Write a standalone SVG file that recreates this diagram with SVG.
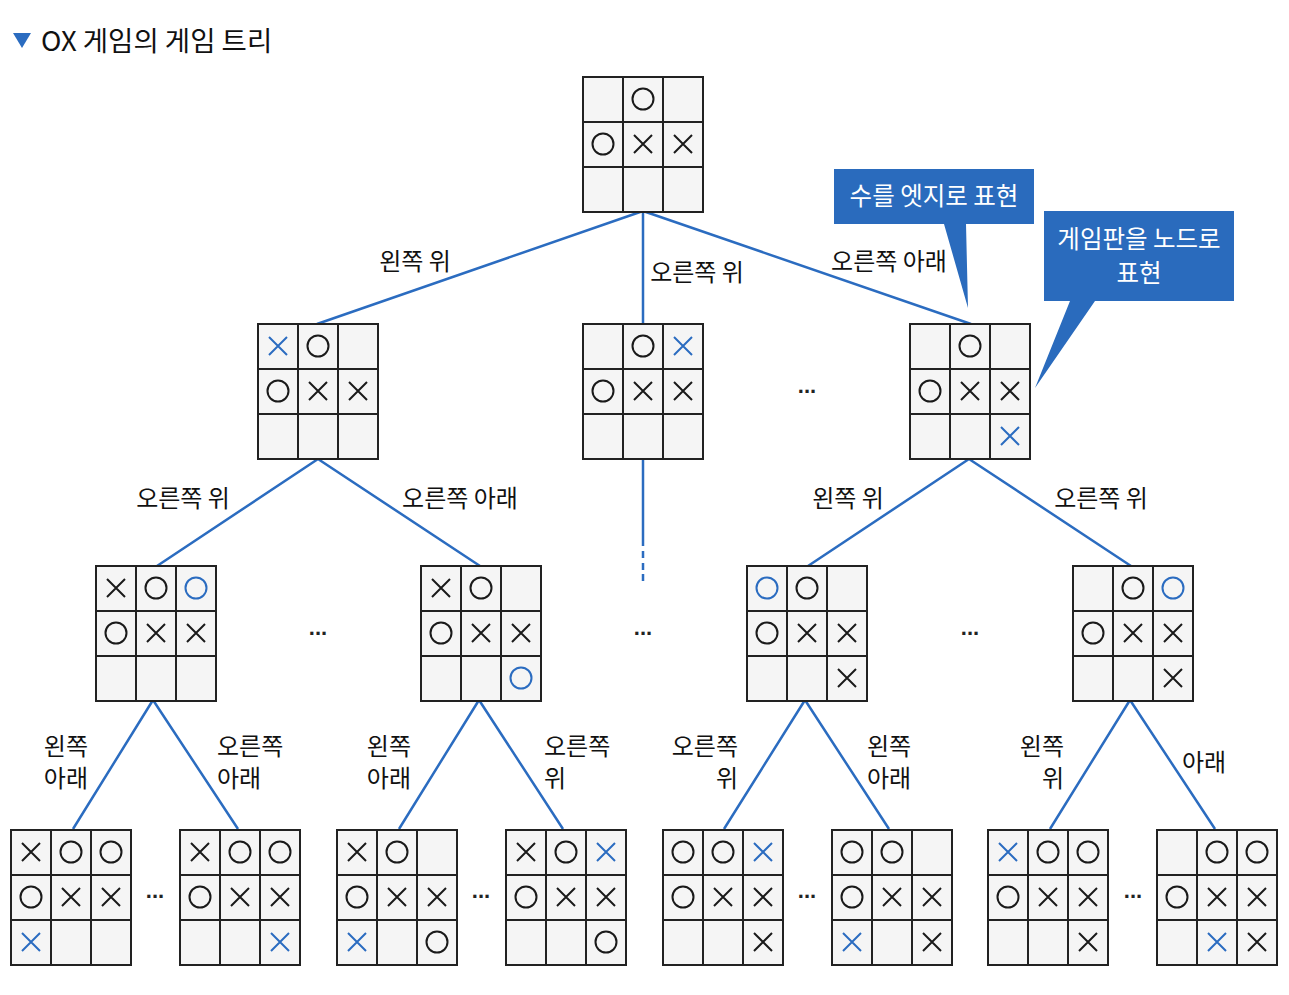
<svg xmlns="http://www.w3.org/2000/svg" xmlns:xlink="http://www.w3.org/1999/xlink" width="1289" height="995" viewBox="0 0 1289 995">
<style>
text{font-family:"Noto Sans CJK KR","Noto Sans",sans-serif;}
.lbl{font-size:24px;fill:#111;}
.ttl{font-size:27.5px;fill:#111;}
.call{font-size:24.5px;fill:#fff;text-anchor:middle;}
.edge{stroke:#2b6cc0;stroke-width:2.5;fill:none;}
.k{stroke:#1a1a1a;}
.b{stroke:#2b6cc0;}
.dots{font-size:22px;fill:#222;text-anchor:middle;font-family:"Liberation Sans",sans-serif;font-weight:bold;}
.m{text-anchor:middle;}
.e{text-anchor:end;}
</style>
<defs>
<g id="grid">
<rect x="0" y="0" width="120" height="135" fill="#f5f5f5" stroke="#222" stroke-width="2"/>
<path d="M40 0V135M80 0V135M0 45H120M0 90H120" stroke="#222" stroke-width="2" fill="none"/>
</g>
<circle id="o" cx="0" cy="0" r="10.5" fill="none" stroke-width="2"/>
<path id="x" d="M-9 -9L9 9M9 -9L-9 9" fill="none" stroke-width="2"/>
</defs>

<g id="title">
<polygon points="13,33 31,33 22,48" fill="#2b6cc0"/>
<text class="ttl" x="41" y="51">OX 게임의 게임 트리</text>
</g>

<g id="connectors">
<path class="edge" d="M643 211L317 324M643 211V324M643 211L971 324"/>
<path class="edge" d="M318 459L157 566M318 459L480 566"/>
<path class="edge" d="M643 459V546"/>
<path class="edge" d="M643 551V558M643 563V570M643 574V581"/>
<path class="edge" d="M969 459L808 566M969 459L1131 566"/>
<path class="edge" d="M153 700L73 829M153 700L238 829"/>
<path class="edge" d="M479 700L399 829M479 700L563 829"/>
<path class="edge" d="M805 700L724 829M805 700L889 829"/>
<path class="edge" d="M1130 700L1050 829M1130 700L1215 829"/>
</g>

<g id="edge-labels">
<text class="lbl m" x="415" y="270">왼쪽 위</text>
<text class="lbl m" x="697" y="281">오른쪽 위</text>
<text class="lbl m" x="889" y="270">오른쪽 아래</text>
<text class="lbl m" x="183" y="507">오른쪽 위</text>
<text class="lbl m" x="460" y="507">오른쪽 아래</text>
<text class="lbl m" x="848" y="507">왼쪽 위</text>
<text class="lbl m" x="1101" y="507">오른쪽 위</text>
<text class="lbl e" x="88" y="755">왼쪽</text><text class="lbl e" x="88" y="787">아래</text>
<text class="lbl" x="217" y="755">오른쪽</text><text class="lbl" x="217" y="787">아래</text>
<text class="lbl e" x="411" y="755">왼쪽</text><text class="lbl e" x="411" y="787">아래</text>
<text class="lbl" x="544" y="755">오른쪽</text><text class="lbl" x="544" y="787">위</text>
<text class="lbl e" x="738" y="755">오른쪽</text><text class="lbl e" x="738" y="787">위</text>
<text class="lbl" x="867" y="755">왼쪽</text><text class="lbl" x="867" y="787">아래</text>
<text class="lbl e" x="1064" y="755">왼쪽</text><text class="lbl e" x="1064" y="787">위</text>
<text class="lbl" x="1182" y="771">아래</text>
</g>

<g id="ellipses">
<text class="dots" x="807" y="393">...</text>
<text class="dots" x="318" y="635">...</text>
<text class="dots" x="643" y="635">...</text>
<text class="dots" x="970" y="635">...</text>
<text class="dots" x="155" y="898">...</text>
<text class="dots" x="481" y="898">...</text>
<text class="dots" x="807" y="898">...</text>
<text class="dots" x="1133" y="898">...</text>
</g>

<g id="root" transform="translate(583,77)">
<use href="#grid"/>
<use href="#o" x="60" y="22" class="k"/>
<use href="#o" x="20" y="67" class="k"/><use href="#x" x="60" y="67" class="k"/><use href="#x" x="100" y="67" class="k"/>
</g>

<g id="n1a" transform="translate(258,324)">
<use href="#grid"/>
<use href="#x" x="20" y="22" class="b"/><use href="#o" x="60" y="22" class="k"/>
<use href="#o" x="20" y="67" class="k"/><use href="#x" x="60" y="67" class="k"/><use href="#x" x="100" y="67" class="k"/>
</g>

<g id="n1b" transform="translate(583,324)">
<use href="#grid"/>
<use href="#o" x="60" y="22" class="k"/><use href="#x" x="100" y="22" class="b"/>
<use href="#o" x="20" y="67" class="k"/><use href="#x" x="60" y="67" class="k"/><use href="#x" x="100" y="67" class="k"/>
</g>

<g id="n1c" transform="translate(910,324)">
<use href="#grid"/>
<use href="#o" x="60" y="22" class="k"/>
<use href="#o" x="20" y="67" class="k"/><use href="#x" x="60" y="67" class="k"/><use href="#x" x="100" y="67" class="k"/>
<use href="#x" x="100" y="112" class="b"/>
</g>

<g id="n2a" transform="translate(96,566)">
<use href="#grid"/>
<use href="#x" x="20" y="22" class="k"/><use href="#o" x="60" y="22" class="k"/><use href="#o" x="100" y="22" class="b"/>
<use href="#o" x="20" y="67" class="k"/><use href="#x" x="60" y="67" class="k"/><use href="#x" x="100" y="67" class="k"/>
</g>

<g id="n2b" transform="translate(421,566)">
<use href="#grid"/>
<use href="#x" x="20" y="22" class="k"/><use href="#o" x="60" y="22" class="k"/>
<use href="#o" x="20" y="67" class="k"/><use href="#x" x="60" y="67" class="k"/><use href="#x" x="100" y="67" class="k"/>
<use href="#o" x="100" y="112" class="b"/>
</g>

<g id="n2c" transform="translate(747,566)">
<use href="#grid"/>
<use href="#o" x="20" y="22" class="b"/><use href="#o" x="60" y="22" class="k"/>
<use href="#o" x="20" y="67" class="k"/><use href="#x" x="60" y="67" class="k"/><use href="#x" x="100" y="67" class="k"/>
<use href="#x" x="100" y="112" class="k"/>
</g>

<g id="n2d" transform="translate(1073,566)">
<use href="#grid"/>
<use href="#o" x="60" y="22" class="k"/><use href="#o" x="100" y="22" class="b"/>
<use href="#o" x="20" y="67" class="k"/><use href="#x" x="60" y="67" class="k"/><use href="#x" x="100" y="67" class="k"/>
<use href="#x" x="100" y="112" class="k"/>
</g>

<g id="n3a" transform="translate(11,830)">
<use href="#grid"/>
<use href="#x" x="20" y="22" class="k"/><use href="#o" x="60" y="22" class="k"/><use href="#o" x="100" y="22" class="k"/>
<use href="#o" x="20" y="67" class="k"/><use href="#x" x="60" y="67" class="k"/><use href="#x" x="100" y="67" class="k"/>
<use href="#x" x="20" y="112" class="b"/>
</g>

<g id="n3b" transform="translate(180,830)">
<use href="#grid"/>
<use href="#x" x="20" y="22" class="k"/><use href="#o" x="60" y="22" class="k"/><use href="#o" x="100" y="22" class="k"/>
<use href="#o" x="20" y="67" class="k"/><use href="#x" x="60" y="67" class="k"/><use href="#x" x="100" y="67" class="k"/>
<use href="#x" x="100" y="112" class="b"/>
</g>

<g id="n3c" transform="translate(337,830)">
<use href="#grid"/>
<use href="#x" x="20" y="22" class="k"/><use href="#o" x="60" y="22" class="k"/>
<use href="#o" x="20" y="67" class="k"/><use href="#x" x="60" y="67" class="k"/><use href="#x" x="100" y="67" class="k"/>
<use href="#x" x="20" y="112" class="b"/><use href="#o" x="100" y="112" class="k"/>
</g>

<g id="n3d" transform="translate(506,830)">
<use href="#grid"/>
<use href="#x" x="20" y="22" class="k"/><use href="#o" x="60" y="22" class="k"/><use href="#x" x="100" y="22" class="b"/>
<use href="#o" x="20" y="67" class="k"/><use href="#x" x="60" y="67" class="k"/><use href="#x" x="100" y="67" class="k"/>
<use href="#o" x="100" y="112" class="k"/>
</g>

<g id="n3e" transform="translate(663,830)">
<use href="#grid"/>
<use href="#o" x="20" y="22" class="k"/><use href="#o" x="60" y="22" class="k"/><use href="#x" x="100" y="22" class="b"/>
<use href="#o" x="20" y="67" class="k"/><use href="#x" x="60" y="67" class="k"/><use href="#x" x="100" y="67" class="k"/>
<use href="#x" x="100" y="112" class="k"/>
</g>

<g id="n3f" transform="translate(832,830)">
<use href="#grid"/>
<use href="#o" x="20" y="22" class="k"/><use href="#o" x="60" y="22" class="k"/>
<use href="#o" x="20" y="67" class="k"/><use href="#x" x="60" y="67" class="k"/><use href="#x" x="100" y="67" class="k"/>
<use href="#x" x="20" y="112" class="b"/><use href="#x" x="100" y="112" class="k"/>
</g>

<g id="n3g" transform="translate(988,830)">
<use href="#grid"/>
<use href="#x" x="20" y="22" class="b"/><use href="#o" x="60" y="22" class="k"/><use href="#o" x="100" y="22" class="k"/>
<use href="#o" x="20" y="67" class="k"/><use href="#x" x="60" y="67" class="k"/><use href="#x" x="100" y="67" class="k"/>
<use href="#x" x="100" y="112" class="k"/>
</g>

<g id="n3h" transform="translate(1157,830)">
<use href="#grid"/>
<use href="#o" x="60" y="22" class="k"/><use href="#o" x="100" y="22" class="k"/>
<use href="#o" x="20" y="67" class="k"/><use href="#x" x="60" y="67" class="k"/><use href="#x" x="100" y="67" class="k"/>
<use href="#x" x="60" y="112" class="b"/><use href="#x" x="100" y="112" class="k"/>
</g>

<g id="callout-edge">
<path d="M834 169H1034V224H966L968 308L944 224H834Z" fill="#2a6bbd"/>
<text class="call" x="934" y="205">수를 엣지로 표현</text>
</g>

<g id="callout-node">
<path d="M1044 211H1234V301H1095L1035 388L1070 301H1044Z" fill="#2a6bbd"/>
<text class="call" x="1139" y="248">게임판을 노드로</text>
<text class="call" x="1139" y="282">표현</text>
</g>
</svg>
